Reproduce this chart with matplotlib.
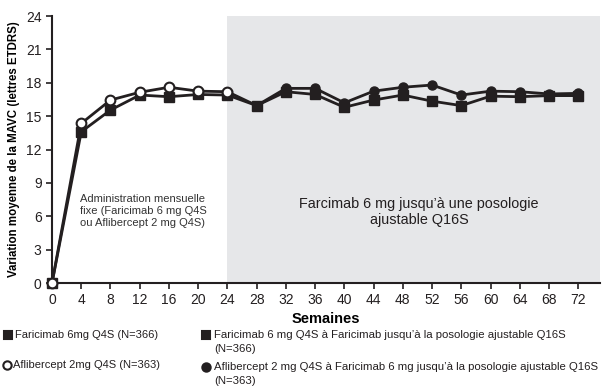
import numpy as np
import matplotlib.pyplot as plt
from matplotlib.lines import Line2D

plt.rcParams['font.family'] = ['Liberation Sans', 'DejaVu Sans']

weeks = [0, 4, 8, 12, 16, 20, 24, 28, 32, 36, 40, 44, 48, 52, 56, 60, 64, 68, 72]
faricimab = [0, 13.6, 15.55, 16.9, 16.75, 16.95, 16.9, 15.95, 17.2, 16.95, 15.8,
             16.45, 16.9, 16.35, 15.95, 16.8, 16.75, 16.85, 16.85]
aflibercept = [0, 14.35, 16.45, 17.15, 17.6, 17.25, 17.2, 15.95, 17.5, 17.5, 16.2,
               17.25, 17.6, 17.8, 16.9, 17.25, 17.2, 17.0, 17.05]
switch_week = 24
xticks = list(range(0, 73, 4))
yticks = list(range(0, 25, 3))

dark = '#231f20'
fig = plt.figure(figsize=(6.05, 3.92), dpi=100)
ax = fig.add_axes([0.086, 0.278, 0.906, 0.681])

ax.axvspan(switch_week, 75, color='#e6e7e9', zorder=0, lw=0)

w = np.array(weeks)
f = np.array(faricimab)
a = np.array(aflibercept)
first = w <= switch_week
second = w >= switch_week

ax.plot(w, f, color=dark, lw=2, marker='s', ms=6.5, mfc=dark, mec=dark, zorder=3, clip_on=False)
ax.plot(w, a, color=dark, lw=2, zorder=4, clip_on=False)
ax.plot(w[first], a[first], ls='none', marker='o', ms=7, mfc='white', mec=dark, mew=1.5, zorder=5, clip_on=False)
ax.plot(w[second][1:], a[second][1:], ls='none', marker='o', ms=6.5, mfc=dark, mec=dark, zorder=5)

ax.set_xlim(0, 75)
ax.set_ylim(0, 24)
ax.set_xticks(xticks)
ax.set_yticks(yticks)
ax.tick_params(labelsize=10, colors='#231f20', length=4, width=1.2)
for s in ['top', 'right']:
    ax.spines[s].set_visible(False)
for s in ['left', 'bottom']:
    ax.spines[s].set_linewidth(1.5)
    ax.spines[s].set_color(dark)
ax.set_xlabel('Semaines', fontsize=10.5, fontweight='bold', labelpad=3)
ax.set_ylabel('Variation moyenne de la MAVC (lettres ETDRS)', fontsize=8.3,
              fontweight='bold', labelpad=4)

ax.text(3.8, 8.0, 'Administration mensuelle\nfixe (Faricimab 6 mg Q4S\nou Aflibercept 2 mg Q4S)',
        fontsize=8, color='#333333', va='top', ha='left', linespacing=1.25)
ax.text(50.2, 6.4, 'Farcimab 6 mg jusqu\u2019à une posologie\najustable Q16S',
        fontsize=10.4, color='#231f20', va='center', ha='center', linespacing=1.2)

def fx(px):
    return px / 605

def fy(py):
    return 1 - py / 392

entries = [
    (8, 335, 's', dark, 15, 8, ['Faricimab 6mg Q4S (N=366)']),
    (7, 365, 'o', 'white', 13, 8, ['Aflibercept 2mg Q4S (N=363)']),
    (206, 335, 's', dark, 214, 8.2, ['Faricimab 6 mg Q4S à Faricimab jusqu\u2019à la posologie ajustable Q16S', '(N=366)']),
    (206, 367, 'o', dark, 214, 8.2, ['Aflibercept 2 mg Q4S à Faricimab 6 mg jusqu\u2019à la posologie ajustable Q16S', '(N=363)']),
]
for mx, my, m, fc, tx, fs, lines in entries:
    fig.add_artist(Line2D([fx(mx)], [fy(my)], transform=fig.transFigure, marker=m, ms=6,
                          mfc=fc, mec=dark, mew=1.5, ls='none'))
    for i, t in enumerate(lines):
        fig.text(fx(tx), fy(my + i * 14), t, fontsize=fs, color='#231f20', va='center', ha='left')

fig.savefig('out.png', dpi=100)
